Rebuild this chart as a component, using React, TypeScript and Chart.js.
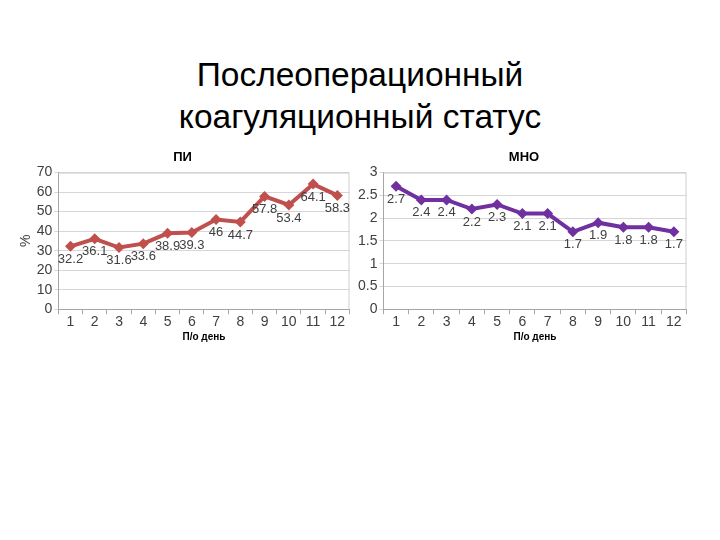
import React, { useEffect, useRef } from "react";
import { Chart, registerables } from "chart.js";

Chart.register(...registerables);

const days = ["1", "2", "3", "4", "5", "6", "7", "8", "9", "10", "11", "12"];
const piValues = [32.2, 36.1, 31.6, 33.6, 38.9, 39.3, 46, 44.7, 57.8, 53.4, 64.1, 58.3];
const inrValues = [2.7, 2.4, 2.4, 2.2, 2.3, 2.1, 2.1, 1.7, 1.9, 1.8, 1.8, 1.7];

const mainTitle = ["Послеоперационный", "коагуляционный статус"];
const piTitle = "ПИ";
const inrTitle = "МНО";
const xTitle = "П/о день";
const piYTitle = "%";

const FONT = "'Liberation Sans', Arial, sans-serif";

const labelsPlugin = {
  id: "pointLabels",
  afterDatasetsDraw(chart: any) {
    const ctx = chart.ctx;
    ctx.save();
    ctx.font = `13px ${FONT}`;
    ctx.fillStyle = "#404040";
    ctx.textAlign = "center";
    ctx.textBaseline = "middle";
    chart.data.datasets.forEach((ds: any, i: number) => {
      const meta = chart.getDatasetMeta(i);
      meta.data.forEach((pt: any, j: number) => {
        ctx.fillText(String(ds.data[j]), pt.x, pt.y + 13);
      });
    });
    ctx.restore();
  },
};

const borderPlugin = {
  id: "plotBorder",
  beforeDatasetsDraw(chart: any) {
    const { ctx, chartArea } = chart;
    ctx.save();
    ctx.strokeStyle = "#cfcfcf";
    ctx.lineWidth = 1;
    ctx.beginPath();
    ctx.moveTo(chartArea.left, chartArea.top + 0.5);
    ctx.lineTo(chartArea.right - 0.5, chartArea.top + 0.5);
    ctx.lineTo(chartArea.right - 0.5, chartArea.bottom);
    ctx.stroke();
    ctx.restore();
  },
};

function makeConfig(title: string, data: number[], color: string, max: number, step: number, yTitle: string | null) {
  return {
    type: "line",
    data: {
      labels: days,
      datasets: [
        {
          data,
          borderColor: color,
          backgroundColor: color,
          borderWidth: 4,
          pointStyle: "rectRot",
          pointRadius: 5.5,
          pointBorderWidth: 0,
          tension: 0,
        },
      ],
    },
    options: {
      animation: false,
      responsive: false,
      layout: { padding: 0 },
      plugins: {
        legend: { display: false },
        tooltip: { enabled: false },
        title: {
          display: true,
          text: title,
          color: "#000",
          font: { family: FONT, size: 13, weight: "bold" },
          padding: { top: 0, bottom: 7 },
        },
      },
      scales: {
        x: {
          offset: true,
          grid: { offset: true, drawOnChartArea: false, drawTicks: true, tickLength: 5, color: "#a6a6a6" },
          border: { color: "#a6a6a6" },
          ticks: { color: "#404040", font: { family: FONT, size: 14 }, padding: 0, maxRotation: 0, autoSkip: false },
          title: { display: true, text: xTitle, color: "#000", font: { family: FONT, size: 10, weight: "bold" }, padding: { top: 0, bottom: 3 } },
        },
        y: {
          min: 0,
          max,
          ticks: {
            stepSize: step,
            autoSkip: false,
            color: "#404040",
            font: { family: FONT, size: 14 },
            padding: 2,
            callback: (v: any) => String(v),
          },
          grid: { color: "#d6d6d6", drawTicks: true, tickLength: 4 },
          border: { color: "#a6a6a6" },
          title: yTitle
            ? { display: true, text: yTitle, color: "#404040", font: { family: FONT, size: 14 }, padding: { top: 8, bottom: 0 } }
            : { display: false },
        },
      },
    },
    plugins: [borderPlugin, labelsPlugin],
  };
}

function LineChart(props: { config: any; style: React.CSSProperties; width: number; height: number }) {
  const ref = useRef<HTMLCanvasElement | null>(null);
  useEffect(() => {
    const chart = new Chart(ref.current as HTMLCanvasElement, props.config);
    return () => chart.destroy();
  }, []);
  return (
    <div style={props.style}>
      <canvas ref={ref} width={props.width} height={props.height} style={{ display: "block" }} />
    </div>
  );
}

export default function App() {
  return (
    <div style={{ position: "fixed", left: 0, top: 0, width: 720, height: 540, background: "#fff", fontFamily: FONT }}>
      <div
        style={{
          position: "absolute",
          top: 54,
          left: 0,
          width: 720,
          textAlign: "center",
          fontSize: 33.5,
          lineHeight: "42px",
          color: "#000",
        }}
      >
        {mainTitle.map((t) => (
          <div key={t}>{t}</div>
        ))}
      </div>
      <LineChart
        config={makeConfig(piTitle, piValues, "#C0504D", 70, 10, piYTitle)}
        style={{ position: "absolute", left: 10, top: 150 }}
        width={345}
        height={196}
      />
      <LineChart
        config={makeConfig(inrTitle, inrValues, "#7030A0", 3, 0.5, null)}
        style={{ position: "absolute", left: 356, top: 150 }}
        width={336}
        height={196}
      />
    </div>
  );
}
